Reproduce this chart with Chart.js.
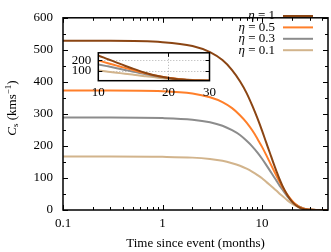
<!DOCTYPE html>
<html>
<head>
<meta charset="utf-8">
<script src="https://cdn.jsdelivr.net/npm/chart.js@4"></script>
<style>
  body { margin: 0; background: #fff; }
  #wrap { position: relative; width: 331px; height: 252px; }
  #main { position: absolute; left: 0; top: 0; }
  #inset { position: absolute; left: 60px; top: 38px; }
</style>
</head>
<body>
<div id="wrap">
  <canvas id="main" width="331" height="252"></canvas>
  <canvas id="inset" width="160" height="62"></canvas>
</div>
<script>
/* data */
const months = [0.1, 0.3, 1, 2, 3, 4, 5, 6, 7, 8, 9, 10, 11, 12, 13, 14, 15, 16, 18, 20, 22, 24, 26, 28, 30, 35, 46];
const eta1  = [528, 528, 524, 512, 493, 468, 437, 402, 365, 325, 286, 248, 211, 178, 147, 120, 96, 76, 46, 26, 14, 7, 3, 1.4, 0.5, 0, 0];
const eta05 = [373, 373, 371, 364, 352, 337, 318, 296, 273, 248, 222, 197, 172, 148, 126, 106, 88, 72, 47, 29, 17, 9, 5, 2.5, 1.2, 0.2, 0];
const eta03 = [289, 289, 287, 282, 274, 263, 249, 234, 216, 198, 179, 160, 141, 123, 106, 91, 76, 64, 42, 27, 16, 10, 5, 3, 1.4, 0.3, 0];
const eta01 = [167, 167, 166, 163.5, 159, 153.5, 146, 138, 129, 119, 109, 99, 88, 78, 69, 60, 51, 44, 30, 20, 13, 8, 5, 2.7, 1.5, 0.3, 0];
const etaValues = ['1', '0.5', '0.3', '0.1'];
const xTicks = [0.1, 1, 10];
const yTicks = [0, 100, 200, 300, 400, 500, 600];
const insetXTicks = [10, 20, 30];
const insetYTicks = [100, 200];

const colors = ['#8b4513', '#ff7f2a', '#8c8c8c', '#d2b48c'];
const series = [eta1, eta05, eta03, eta01];
const FONT = '"Liberation Serif", "Times New Roman", serif';

function makeDatasets() {
    return series.map(function(vals, i) {
        return {
            label: 'η = ' + etaValues[i],
            data: months.map(function(t, j) { return {x: t, y: vals[j]}; }),
            borderColor: colors[i],
            borderWidth: 2,
            pointRadius: 0,
            cubicInterpolationMode: 'monotone',
            fill: false
        };
    });
}

function tick(ctx, x1, y1, x2, y2) {
    ctx.beginPath();
    ctx.moveTo(x1, y1);
    ctx.lineTo(x2, y2);
    ctx.stroke();
}

/* main chart frame, inward ticks, legend, y title */
const mainDecor = {
    id: 'mainDecor',
    afterDraw(chart) {
        const ctx = chart.ctx;
        const a = chart.chartArea;
        const xs = chart.scales.x, ys = chart.scales.y;
        ctx.save();
        ctx.strokeStyle = '#000';
        ctx.lineWidth = 1;
        // x ticks (log)
        for (let d = 0.1; d <= 100; d *= 10) {
            for (let m = 1; m <= 9; m++) {
                const v = d * m;
                if (v < xs.min || v > xs.max) continue;
                const px = Math.round(xs.getPixelForValue(v)) + 0.5;
                const len = m === 1 ? 5 : 3;
                tick(ctx, px, a.bottom, px, a.bottom - len);
                tick(ctx, px, a.top, px, a.top + len);
            }
        }
        // y ticks
        for (let v = 0; v <= 600; v += 50) {
            const py = Math.round(ys.getPixelForValue(v)) + 0.5;
            const len = v % 100 === 0 ? 5 : 3;
            tick(ctx, a.left, py, a.left + len, py);
            tick(ctx, a.right, py, a.right - len, py);
        }
        ctx.lineWidth = 1.5;
        ctx.strokeRect(a.left, a.top, a.right - a.left, a.bottom - a.top);

        // legend
        ctx.font = '13px ' + FONT;
        ctx.textBaseline = 'middle';
        ctx.fillStyle = '#000';
        const textRight = 275;
        for (let i = 0; i < etaValues.length; i++) {
            const y = 16 + i * 11.4;
            const rest = ' = ' + etaValues[i];
            ctx.font = '13px ' + FONT;
            const w = ctx.measureText(rest).width;
            ctx.textAlign = 'right';
            ctx.fillText(rest, textRight, y);
            ctx.font = 'italic 13px ' + FONT;
            ctx.fillText('η', textRight - w, y);
            ctx.strokeStyle = colors[i];
            ctx.lineWidth = 2;
            tick(ctx, 283, y, 313, y);
        }

        // y title
        ctx.translate(13, 108);
        ctx.rotate(-Math.PI / 2);
        ctx.fillStyle = '#000';
        ctx.textAlign = 'left';
        ctx.textBaseline = 'middle';
        const parts = [
            ['italic 13px ' + FONT, 'C', 0],
            ['9px ' + FONT, 's', 3],
            ['13px ' + FONT, ' (kms', 0],
            ['9px ' + FONT, '−1', -4],
            ['13px ' + FONT, ')', 0]
        ];
        let total = 0;
        parts.forEach(function(p) { ctx.font = p[0]; total += ctx.measureText(p[1]).width; });
        let x = -total / 2;
        parts.forEach(function(p) {
            ctx.font = p[0];
            ctx.fillText(p[1], x, p[2]);
            x += ctx.measureText(p[1]).width;
        });
        ctx.restore();
    }
};

new Chart(document.getElementById('main'), {
    type: 'line',
    data: { datasets: makeDatasets() },
    options: {
        responsive: false,
        animation: false,
        events: [],
        layout: { padding: { top: 6, right: 3, left: 0, bottom: 0 } },
        plugins: { legend: { display: false }, tooltip: { enabled: false } },
        scales: {
            x: {
                type: 'logarithmic',
                min: 0.1,
                max: 46,
                grid: { display: false, drawTicks: false },
                border: { display: false },
                afterBuildTicks: function(s) { s.ticks = xTicks.map(function(v) { return {value: v}; }); },
                afterFit: function(s) { s.height = 42; },
                ticks: {
                    padding: 6,
                    autoSkip: false,
                    maxRotation: 0,
                    color: '#000',
                    font: { family: FONT, size: 13 },
                    callback: function(v) { return String(v); }
                },
                title: {
                    display: true,
                    text: 'Time since event (months)',
                    color: '#000',
                    font: { family: FONT, size: 13 },
                    padding: { top: 0, bottom: 1 }
                }
            },
            y: {
                min: 0,
                max: 600,
                grid: { display: false, drawTicks: false },
                border: { display: false },
                afterBuildTicks: function(s) { s.ticks = yTicks.map(function(v) { return {value: v}; }); },
                afterFit: function(s) { s.width = 63; },
                ticks: {
                    padding: 10,
                    color: '#000',
                    font: { family: FONT, size: 13 }
                }
            }
        }
    },
    plugins: [mainDecor]
});

/* inset */
const insetDecor = {
    id: 'insetDecor',
    beforeDatasetsDraw(chart) {
        const ctx = chart.ctx;
        const a = chart.chartArea;
        const xs = chart.scales.x, ys = chart.scales.y;
        ctx.save();
        ctx.fillStyle = '#fff';
        ctx.fillRect(a.left, a.top, a.right - a.left, a.bottom - a.top);
        ctx.strokeStyle = '#b0b0b0';
        ctx.lineWidth = 1;
        ctx.setLineDash([1, 2]);
        insetYTicks.forEach(function(v) {
            const py = Math.round(ys.getPixelForValue(v)) + 0.5;
            tick(ctx, a.left, py, a.right, py);
        });
        const px = Math.round(xs.getPixelForValue(20)) + 0.5;
        tick(ctx, px, a.top, px, a.bottom);
        ctx.restore();
    },
    afterDraw(chart) {
        const ctx = chart.ctx;
        const a = chart.chartArea;
        const xs = chart.scales.x, ys = chart.scales.y;
        ctx.save();
        ctx.strokeStyle = '#000';
        ctx.lineWidth = 1;
        insetYTicks.forEach(function(v) {
            const py = Math.round(ys.getPixelForValue(v)) + 0.5;
            tick(ctx, a.left, py, a.left + 4, py);
            tick(ctx, a.right, py, a.right - 4, py);
        });
        const px = Math.round(xs.getPixelForValue(20)) + 0.5;
        tick(ctx, px, a.top, px, a.top + 4);
        tick(ctx, px, a.bottom, px, a.bottom - 4);
        ctx.lineWidth = 1.5;
        ctx.strokeRect(a.left, a.top, a.right - a.left, a.bottom - a.top);
        ctx.restore();
    }
};

new Chart(document.getElementById('inset'), {
    type: 'line',
    data: { datasets: makeDatasets() },
    options: {
        responsive: false,
        animation: false,
        events: [],
        layout: { padding: { top: 5.7, right: 10, left: 0, bottom: 0 } },
        plugins: { legend: { display: false }, tooltip: { enabled: false } },
        scales: {
            x: {
                type: 'logarithmic',
                min: 10,
                max: 30,
                grid: { display: false, drawTicks: false },
                border: { display: false },
                afterBuildTicks: function(s) { s.ticks = insetXTicks.map(function(v) { return {value: v}; }); },
                afterFit: function(s) { s.height = 19.3; },
                ticks: {
                    padding: 4,
                    autoSkip: false,
                    maxRotation: 0,
                    color: '#000',
                    font: { family: FONT, size: 13 },
                    callback: function(v) { return String(v); }
                }
            },
            y: {
                min: 0,
                max: 274,
                grid: { display: false, drawTicks: false },
                border: { display: false },
                afterBuildTicks: function(s) { s.ticks = insetYTicks.map(function(v) { return {value: v}; }); },
                afterFit: function(s) { s.width = 38.3; },
                ticks: {
                    padding: 7,
                    color: '#000',
                    font: { family: FONT, size: 13 }
                }
            }
        }
    },
    plugins: [insetDecor]
});
</script>
</body>
</html>
